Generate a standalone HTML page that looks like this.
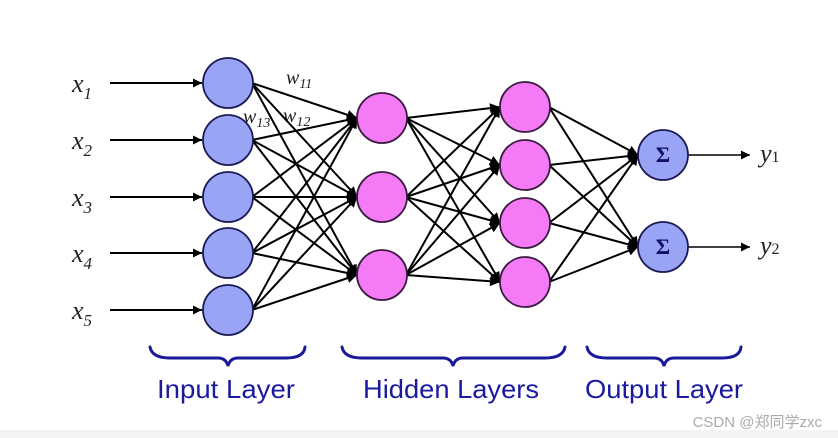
<!DOCTYPE html>
<html><head><meta charset="utf-8"><style>
html,body{margin:0;padding:0;background:#fff;}
svg{display:block;}
</style></head><body>
<svg width="838" height="438" viewBox="0 0 838 438" xmlns="http://www.w3.org/2000/svg">
<defs>
<marker id="a" viewBox="0 0 10 10" refX="10" refY="5" markerWidth="12" markerHeight="9" markerUnits="userSpaceOnUse" orient="auto"><path d="M0,0 L10,5 L0,10 z" fill="#000"/></marker>
<marker id="b" viewBox="0 0 10 10" refX="10" refY="5" markerWidth="13" markerHeight="10" markerUnits="userSpaceOnUse" orient="auto"><path d="M0,0 L10,5 L0,10 z" fill="#000"/></marker>
</defs>
<rect width="838" height="438" fill="#fff"/>
<rect x="0" y="430" width="838" height="8" fill="#f3f3f3"/>
<g font-family="Liberation Serif, serif" font-style="italic" fill="#222">
<text x="72" y="92" font-size="26">x<tspan font-size="17" dy="7">1</tspan></text>
<text x="72" y="149" font-size="26">x<tspan font-size="17" dy="7">2</tspan></text>
<text x="72" y="206" font-size="26">x<tspan font-size="17" dy="7">3</tspan></text>
<text x="72" y="262" font-size="26">x<tspan font-size="17" dy="7">4</tspan></text>
<text x="72" y="319" font-size="26">x<tspan font-size="17" dy="7">5</tspan></text>
<text x="286" y="84" font-size="20">w<tspan font-size="14" dy="4">11</tspan></text>
<text x="243" y="123" font-size="20">w<tspan font-size="14" dy="4">13</tspan></text>
<text x="283" y="122" font-size="20">w<tspan font-size="14" dy="4">12</tspan></text>
<text x="760" y="162" font-size="26">y<tspan font-size="16" font-style="normal">1</tspan></text>
<text x="760" y="254" font-size="26">y<tspan font-size="16" font-style="normal">2</tspan></text>
</g>
<g stroke="#000" stroke-width="2">
<line x1="110" y1="83" x2="202" y2="83" marker-end="url(#a)"/>
<line x1="110" y1="140" x2="202" y2="140" marker-end="url(#a)"/>
<line x1="110" y1="197" x2="202" y2="197" marker-end="url(#a)"/>
<line x1="110" y1="253" x2="202" y2="253" marker-end="url(#a)"/>
<line x1="110" y1="310" x2="202" y2="310" marker-end="url(#a)"/>
<line x1="688" y1="155" x2="750" y2="155" stroke-width="1.5" marker-end="url(#a)"/>
<line x1="688" y1="247" x2="750" y2="247" stroke-width="1.5" marker-end="url(#a)"/>
</g>
<g stroke="#000" stroke-width="2">
<line x1="252" y1="83" x2="357" y2="118" marker-end="url(#b)"/>
<line x1="252" y1="83" x2="357" y2="197" marker-end="url(#b)"/>
<line x1="252" y1="83" x2="357" y2="275" marker-end="url(#b)"/>
<line x1="252" y1="140" x2="357" y2="118" marker-end="url(#b)"/>
<line x1="252" y1="140" x2="357" y2="197" marker-end="url(#b)"/>
<line x1="252" y1="140" x2="357" y2="275" marker-end="url(#b)"/>
<line x1="252" y1="197" x2="357" y2="118" marker-end="url(#b)"/>
<line x1="252" y1="197" x2="357" y2="197" marker-end="url(#b)"/>
<line x1="252" y1="197" x2="357" y2="275" marker-end="url(#b)"/>
<line x1="252" y1="253" x2="357" y2="118" marker-end="url(#b)"/>
<line x1="252" y1="253" x2="357" y2="197" marker-end="url(#b)"/>
<line x1="252" y1="253" x2="357" y2="275" marker-end="url(#b)"/>
<line x1="252" y1="310" x2="357" y2="118" marker-end="url(#b)"/>
<line x1="252" y1="310" x2="357" y2="197" marker-end="url(#b)"/>
<line x1="252" y1="310" x2="357" y2="275" marker-end="url(#b)"/>
<line x1="406" y1="118" x2="500" y2="107" marker-end="url(#b)"/>
<line x1="406" y1="118" x2="500" y2="165" marker-end="url(#b)"/>
<line x1="406" y1="118" x2="500" y2="223" marker-end="url(#b)"/>
<line x1="406" y1="118" x2="500" y2="282" marker-end="url(#b)"/>
<line x1="406" y1="197" x2="500" y2="107" marker-end="url(#b)"/>
<line x1="406" y1="197" x2="500" y2="165" marker-end="url(#b)"/>
<line x1="406" y1="197" x2="500" y2="223" marker-end="url(#b)"/>
<line x1="406" y1="197" x2="500" y2="282" marker-end="url(#b)"/>
<line x1="406" y1="275" x2="500" y2="107" marker-end="url(#b)"/>
<line x1="406" y1="275" x2="500" y2="165" marker-end="url(#b)"/>
<line x1="406" y1="275" x2="500" y2="223" marker-end="url(#b)"/>
<line x1="406" y1="275" x2="500" y2="282" marker-end="url(#b)"/>
<line x1="549" y1="107" x2="638" y2="155" marker-end="url(#b)"/>
<line x1="549" y1="107" x2="638" y2="247" marker-end="url(#b)"/>
<line x1="549" y1="165" x2="638" y2="155" marker-end="url(#b)"/>
<line x1="549" y1="165" x2="638" y2="247" marker-end="url(#b)"/>
<line x1="549" y1="223" x2="638" y2="155" marker-end="url(#b)"/>
<line x1="549" y1="223" x2="638" y2="247" marker-end="url(#b)"/>
<line x1="549" y1="282" x2="638" y2="155" marker-end="url(#b)"/>
<line x1="549" y1="282" x2="638" y2="247" marker-end="url(#b)"/>
</g>
<g stroke="#1a1a55" stroke-width="1.8" fill="#9aa4f5">
<circle cx="228" cy="83" r="25"/>
<circle cx="228" cy="140" r="25"/>
<circle cx="228" cy="197" r="25"/>
<circle cx="228" cy="253" r="25"/>
<circle cx="228" cy="310" r="25"/>
<circle cx="663" cy="155" r="25"/>
<circle cx="663" cy="247" r="25"/>
</g>
<g stroke="#3a1a40" stroke-width="1.8" fill="#f57af5">
<circle cx="382" cy="118" r="25"/>
<circle cx="382" cy="197" r="25"/>
<circle cx="382" cy="275" r="25"/>
<circle cx="525" cy="107" r="25"/>
<circle cx="525" cy="165" r="25"/>
<circle cx="525" cy="223" r="25"/>
<circle cx="525" cy="282" r="25"/>
</g>
<g font-family="Liberation Serif, serif" font-size="22" font-weight="bold" fill="#10106a" text-anchor="middle">
<text x="663" y="162">Σ</text>
<text x="663" y="254">Σ</text>
</g>
<g stroke="#1a1a9a" stroke-width="3" fill="none" stroke-linecap="round">
<path d="M150,347 Q152,358 170,358 L218,358 Q226,358 228,366 Q230,358 238,358 L286,358 Q304,358 305,347"/>
<path d="M342,347 Q344,358 362,358 L443,358 Q451,358 453,366 Q455,358 463,358 L545,358 Q563,358 565,347"/>
<path d="M587,347 Q589,358 607,358 L654,358 Q662,358 664,366 Q666,358 674,358 L722,358 Q740,358 741,347"/>
</g>
<g font-family="Liberation Sans, sans-serif" font-size="26" fill="#1a1aa0" text-anchor="middle">
<text x="226" y="398" textLength="138" lengthAdjust="spacingAndGlyphs">Input Layer</text>
<text x="451" y="398" textLength="176" lengthAdjust="spacingAndGlyphs">Hidden Layers</text>
<text x="664" y="398" textLength="158" lengthAdjust="spacingAndGlyphs">Output Layer</text>
</g>
<text x="822" y="427" text-anchor="end" font-family="Liberation Sans, 'Noto Sans CJK SC', sans-serif" font-size="15" fill="#aaa">CSDN @郑同学zxc</text>
</svg>
</body></html>
